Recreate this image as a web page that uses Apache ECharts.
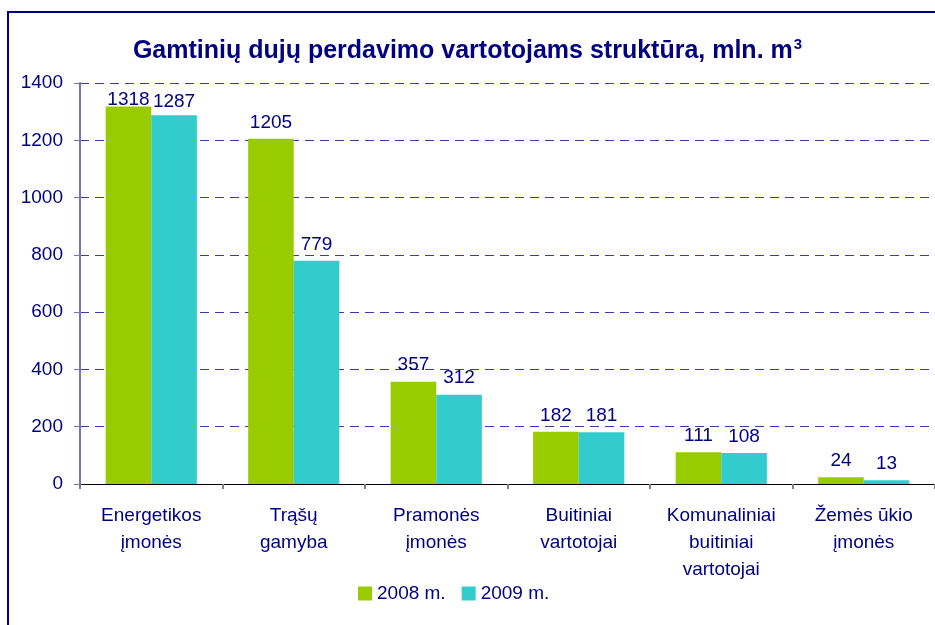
<!DOCTYPE html>
<html lang="lt">
<head>
    <meta charset="UTF-8">
    <title>Gamtinių dujų perdavimo vartotojams struktūra</title>
    <script src="https://cdn.jsdelivr.net/npm/echarts@6/dist/echarts.min.js"></script>
    <style>
        html, body { margin: 0; padding: 0; background: #fff; }
        #chart { width: 935px; height: 625px; }
    </style>
</head>
<body>
<div id="chart"></div>
<script>
    // duomenys
    const categories = ['Energetikos\nįmonės', 'Trąšų\ngamyba', 'Pramonės\nįmonės', 'Buitiniai\nvartotojai', 'Komunaliniai\nbuitiniai\nvartotojai', 'Žemės ūkio\nįmonės'];
    const values2008 = [1318, 1205, 357, 182, 111, 24];
    const values2009 = [1287, 779, 312, 181, 108, 13];
    const seriesNames = ['2008 m.', '2009 m.'];
    const yTicks = [0, 200, 400, 600, 800, 1000, 1200, 1400];

    const navy = '#000080';
    const font = 'Liberation Sans, Arial, sans-serif';

    // pirmos grupes etiketes remiasi i brezinio krasta
    function withLabels(values, firstDistance) {
        return values.map(function (v, i) {
            if (i === 0) {
                return {value: v, label: {distance: firstDistance}};
            }
            return v;
        });
    }

    let myChart = echarts.init(document.getElementById('chart'));
    let option = {
        animation: false,
        color: ['#99CC00', '#33CCCC'],
        textStyle: {fontFamily: font},
        title: {
            text: 'Gamtinių dujų perdavimo vartotojams struktūra, mln. m{sup|3}',
            left: 'center',
            top: 32,
            textStyle: {
                color: navy,
                fontSize: 25,
                fontWeight: 'bold',
                fontFamily: font,
                rich: {
                    sup: {fontSize: 15, fontWeight: 'bold', color: navy, verticalAlign: 'top', padding: [0, 0, 14, 1]}
                }
            }
        },
        graphic: [{
            type: 'rect',
            shape: {x: 8, y: 12, width: 1000, height: 1000},
            style: {fill: 'none', stroke: navy, lineWidth: 2}
        }],
        legend: {
            data: seriesNames,
            left: 353,
            top: 579,
            icon: 'rect',
            itemWidth: 14,
            itemHeight: 14,
            itemGap: 16,
            textStyle: {color: navy, fontSize: 19, fontFamily: font}
        },
        grid: {
            left: 80,
            top: 83,
            width: 858,
            height: 401,
            containLabel: false
        },
        xAxis: {
            type: 'category',
            data: categories,
            axisLine: {lineStyle: {color: '#000', width: 1}},
            axisTick: {show: true, length: 5, lineStyle: {color: '#808080', width: 2}},
            axisLabel: {color: navy, fontSize: 19, lineHeight: 27, margin: 18, interval: 0, fontFamily: font}
        },
        yAxis: {
            type: 'value',
            min: yTicks[0],
            max: yTicks[yTicks.length - 1],
            interval: 200,
            axisLine: {show: true, lineStyle: {color: '#7474bc', width: 2}},
            axisTick: {show: true, length: 6, lineStyle: {color: '#7474bc'}},
            axisLabel: {color: navy, fontSize: 19, margin: 17, fontFamily: font, formatter: function (v) { return String(v); }},
            splitLine: {show: true, lineStyle: {color: '#3b3bb0', type: [9, 6], width: 1}}
        },
        series: [{
            name: seriesNames[0],
            type: 'bar',
            data: withLabels(values2008, -3),
            barGap: '0%',
            barCategoryGap: '36%',
            label: {show: true, position: 'top', color: navy, fontSize: 19, distance: 7, fontFamily: font}
        }, {
            name: seriesNames[1],
            type: 'bar',
            data: withLabels(values2009, 4),
            barGap: '0%',
            barCategoryGap: '36%',
            label: {show: true, position: 'top', color: navy, fontSize: 19, distance: 7, fontFamily: font}
        }]
    };
    myChart.setOption(option);
</script>
</body>
</html>
